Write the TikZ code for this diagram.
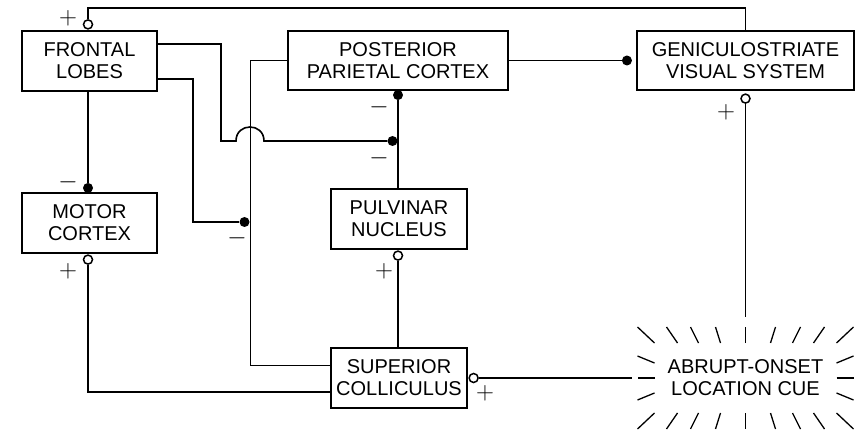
\documentclass[tikz,border=0pt]{standalone}
\usepackage[no-math]{fontspec}
\setmainfont{Liberation Sans}
\usetikzlibrary{calc}
\newcommand\dgfont{\fontsize{20}{22}\selectfont}
\newcommand\pmfont{\fontsize{26}{26}\selectfont}
\tikzset{
  box/.style={draw,line width=1.7pt,inner sep=0pt,align=center,font=\dgfont},
  cuebox/.style={inner sep=0pt,align=center,font=\dgfont},
  conn/.style={line width=1.6pt},
  thinconn/.style={line width=1pt},
  ray/.style={line width=1.3pt},
  pm/.style={inner sep=0pt,font=\pmfont},
  odot/.style={circle,draw,line width=1.5pt,fill=white,inner sep=0pt,minimum size=9pt},
  fdot/.style={circle,fill=black,inner sep=0pt,minimum size=10pt}
}
\begin{document}
\begin{tikzpicture}[x=1pt,y=-1pt]
\useasboundingbox (0,0) rectangle (859,430);
% boxes
\node[box,minimum width=135pt,minimum height=60pt] (fl) at (89.5,61) {FRONTAL\\LOBES};
\node[box,minimum width=135pt,minimum height=60pt] (mc) at (89.5,223) {MOTOR\\CORTEX};
\node[box,minimum width=220pt,minimum height=59pt] (ppc) at (398,60.5) {POSTERIOR\\PARIETAL CORTEX};
\node[box,minimum width=217pt,minimum height=59pt] (gvs) at (745.5,60.5) {GENICULOSTRIATE\\VISUAL SYSTEM};
\node[box,minimum width=136pt,minimum height=60pt] (pn) at (399,219) {PULVINAR\\NUCLEUS};
\node[box,minimum width=136pt,minimum height=60pt] (sc) at (399,378) {SUPERIOR\\COLLICULUS};
\node[cuebox,minimum width=226pt,minimum height=122pt] (cue) at (745.5,378) {ABRUPT-ONSET\\LOCATION CUE};
% terminals
\node[odot,anchor=south] (o1) at ($(fl.north)+(-1.5,-0.5)$) {};
\node[fdot,anchor=south] (d1) at ($(fl.north |- mc.north)+(-1.5,1)$) {};
\node[odot,anchor=north] (o2) at ($(mc.south)+(-1.5,0.5)$) {};
\node[odot,anchor=north] (o3) at ($(pn.south)+(-1,0.5)$) {};
\node[fdot,anchor=north] (d2) at ($(pn.north |- ppc.south)+(-1,-1)$) {};
\node[odot,anchor=north] (o4) at ($(gvs.south)+(0,2.5)$) {};
\node[odot,anchor=west] (o5) at ($(sc.east)+(0.5,0)$) {};
\node[fdot,anchor=east] (d3) at ($(gvs.west)+(-4,0)$) {};
\node[fdot] (d4) at (392.5,141) {};
\node[fdot] (d5) at (244.5,222) {};
% connectors
\draw[conn] (gvs.north) -- ++(0,-22) -| (o1);
\draw[conn] (fl.south -| d1) -- (d1);
\draw[conn] (o2) |- ($(sc.west)+(0,14)$);
\draw[conn] (o3) -- (o3 |- sc.north);
\draw[conn] (d2 |- pn.north) -- (d2);
\draw[conn] ($(fl.east)+(0,-17)$) -| (221,141) -- (236,141)
   .. controls (236,122.3) and (264,122.3) .. (264,141) -- (d4);
\draw[conn] ($(fl.east)+(0,18)$) -| (193,222) -- (d5);
\draw[thinconn] (ppc.west) -| (250,365) -- ($(sc.west)+(0,-13)$);
\draw[conn] (ppc.east) -- (d3);
\draw[conn] (o4) -- (o4 |- cue.north);
\draw[conn] (o5) -- (cue.west);
% signs
\node[pm] (s1) at (68,18) {$+$};
\node[pm] (s2) at (68,182) {$-$};
\node[pm] (s3) at (68,271) {$+$};
\node[pm] (s4) at (237,238) {$-$};
\node[pm] (s5) at (379,107) {$-$};
\node[pm] (s6) at (379,158) {$-$};
\node[pm] (s7) at (384,271) {$+$};
\node[pm] (s8) at (485,393) {$+$};
\node[pm] (s9) at (726,112) {$+$};
% rays of the cue
\foreach \a/\b in {-91/-108,-68/-79,-47/-55,-25/-30,0/0,25/30,47/55,68/79,91/108} {
  \draw[ray] ($(cue.center)+(\a,-35)$) -- ($(cue.center)+(\b,-51)$);
  \draw[ray] ($(cue.center)+(\a,35)$) -- ($(cue.center)+(\b,51)$);
}
\foreach \s in {-1,1} {
  \draw[ray] ($(cue.center)+(\s*91,-15)$) -- ($(cue.center)+(\s*108,-22)$);
  \draw[ray] ($(cue.center)+(\s*91,0)$) -- ($(cue.center)+(\s*108,0)$);
  \draw[ray] ($(cue.center)+(\s*91,15)$) -- ($(cue.center)+(\s*108,22)$);
}
\end{tikzpicture}
\end{document}
